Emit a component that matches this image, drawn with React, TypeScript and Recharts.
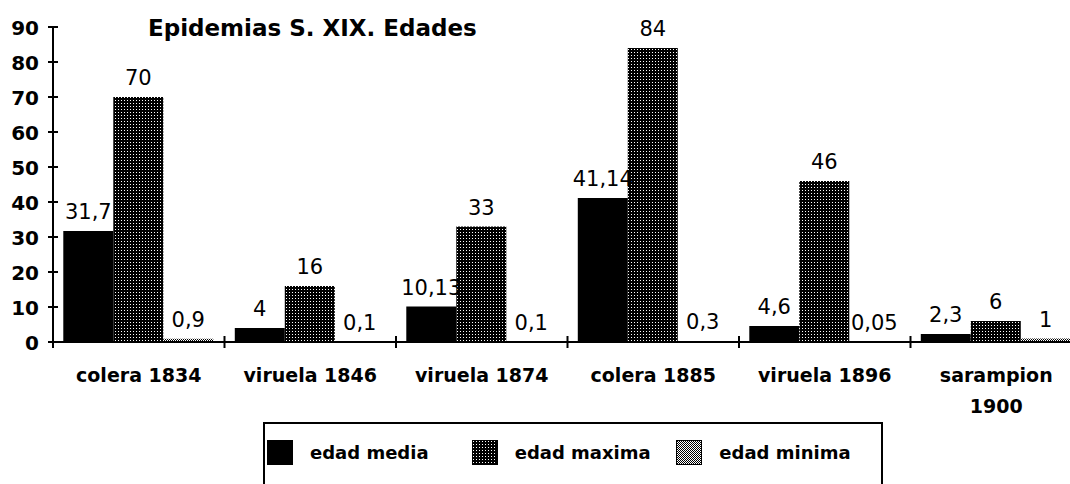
import { BarChart, Bar, XAxis, YAxis, LabelList } from "recharts";

// data
const categories = [
  "colera 1834",
  "viruela 1846",
  "viruela 1874",
  "colera 1885",
  "viruela 1896",
  "sarampion\n1900",
];
const edadMedia = [31.7, 4, 10.13, 41.14, 4.6, 2.3];
const edadMaxima = [70, 16, 33, 84, 46, 6];
const edadMinima = [0.9, 0.1, 0.1, 0.3, 0.05, 1];
const yTicks = [0, 10, 20, 30, 40, 50, 60, 70, 80, 90];
const seriesNames = ["edad media", "edad maxima", "edad minima"];

const chartData = categories.map((c, i) => ({
  name: c,
  media: edadMedia[i],
  maxima: edadMaxima[i],
  minima: edadMinima[i],
}));

const FONT = "'DejaVu Sans', sans-serif";
const CHART_W = 1090;
const CHART_H = 484;
const MARGIN = { top: 27, right: 8, bottom: 82, left: 0 };
const Y_W = 53;
const BAND = (CHART_W - MARGIN.left - MARGIN.right - Y_W) / categories.length;

const fmt = (v: any) => String(v).replace(".", ",");

function YTick({ x, y, payload }: any) {
  return (
    <g>
      <line x1={x - 5} x2={x + 5} y1={y} y2={y} stroke="#000" strokeWidth={2} />
      <text x={x - 14} y={y + 8} textAnchor="end" fontFamily={FONT} fontWeight="bold" fontSize={20} fill="#000">
        {payload.value}
      </text>
    </g>
  );
}

function XTick({ x, y, payload }: any) {
  const lines = String(payload.value).split("\n");
  const bx = x - BAND / 2;
  return (
    <g>
      <line x1={bx} x2={bx} y1={y - 6} y2={y + 6} stroke="#000" strokeWidth={2} />
      {lines.map((l, i) => (
        <text
          key={i}
          x={x}
          y={y + 40 + i * 31}
          textAnchor="middle"
          fontFamily={FONT}
          fontWeight="bold"
          fontSize={19}
          fill="#000"
        >
          {l}
        </text>
      ))}
    </g>
  );
}

function Swatch({ kind }: { kind: number }) {
  const id = `sw${kind}`;
  return (
    <svg width={26} height={25} style={{ display: "block" }}>
      <defs>
        <pattern id={id} width={kind === 1 ? 3 : 2} height={kind === 1 ? 3 : 2} patternUnits="userSpaceOnUse">
          <rect width={3} height={3} fill="#000" />
          {kind === 1 && <rect x={1} y={1} width={1} height={1} fill="#fff" />}
          {kind === 2 && <rect x={1} y={0} width={1} height={1} fill="#fff" />}
          {kind === 2 && <rect x={0} y={1} width={1} height={1} fill="#fff" />}
        </pattern>
      </defs>
      <rect width={26} height={25} fill={kind === 0 ? "#000" : `url(#${id})`} stroke="#000" strokeWidth={2} />
    </svg>
  );
}

export default function App() {
  return (
    <div style={{ position: "relative", width: 1070, height: 484, overflow: "hidden", background: "#fff" }}>
      <style>{"body{margin:0;overflow:hidden}"}</style>
      <div
        style={{
          position: "absolute",
          left: 148,
          top: 13,
          fontFamily: FONT,
          fontWeight: "bold",
          fontSize: 23,
          lineHeight: "30px",
          color: "#000",
          zIndex: 2,
        }}
      >
        Epidemias S. XIX. Edades
      </div>
      <BarChart
        width={CHART_W}
        height={CHART_H}
        data={chartData}
        margin={MARGIN}
        barCategoryGap="6%"
        barGap={0}
      >
        <defs>
          <pattern id="dotsMax" width={3} height={3} patternUnits="userSpaceOnUse">
            <rect width={3} height={3} fill="#000" />
            <rect x={1} y={1} width={1} height={1} fill="#fff" />
          </pattern>
          <pattern id="dotsMin" width={2} height={2} patternUnits="userSpaceOnUse">
            <rect width={2} height={2} fill="#000" />
            <rect x={1} y={0} width={1} height={1} fill="#fff" />
            <rect x={0} y={1} width={1} height={1} fill="#fff" />
          </pattern>
        </defs>
        <XAxis
          dataKey="name"
          interval={0}
          tickSize={0}
          tickMargin={0}
          tickLine={false}
          height={60}
          axisLine={{ stroke: "#000", strokeWidth: 2 }}
          tick={<XTick />}
        />
        <YAxis
          domain={[0, 90]}
          ticks={yTicks}
          width={Y_W}
          tickSize={0}
          tickMargin={0}
          tickLine={false}
          axisLine={{ stroke: "#000", strokeWidth: 2 }}
          tick={<YTick />}
        />
        <Bar dataKey="media" name={seriesNames[0]} fill="#000" isAnimationActive={false}>
          <LabelList dataKey="media" position="top" offset={12} formatter={fmt} fill="#000" fontFamily={FONT} fontSize={21} />
        </Bar>
        <Bar dataKey="maxima" name={seriesNames[1]} fill="url(#dotsMax)" isAnimationActive={false}>
          <LabelList dataKey="maxima" position="top" offset={12} formatter={fmt} fill="#000" fontFamily={FONT} fontSize={21} />
        </Bar>
        <Bar dataKey="minima" name={seriesNames[2]} fill="url(#dotsMin)" isAnimationActive={false}>
          <LabelList dataKey="minima" position="top" offset={12} formatter={fmt} fill="#000" fontFamily={FONT} fontSize={21} />
        </Bar>
      </BarChart>
      <div
        style={{
          position: "absolute",
          left: 263,
          top: 422,
          width: 620,
          height: 90,
          borderTop: "2px solid #000",
          borderLeft: "2px solid #000",
          borderRight: "2px solid #000",
          display: "flex",
          paddingLeft: 2,
          paddingTop: 16,
          boxSizing: "border-box",
          fontFamily: FONT,
          fontWeight: "bold",
          fontSize: 18,
          color: "#000",
        }}
      >
        {seriesNames.map((n, i) => (
          <div key={n} style={{ width: 205, display: "flex", alignItems: "flex-start" }}>
            <Swatch kind={i} />
            <span style={{ marginLeft: 17, lineHeight: "26px" }}>{n}</span>
          </div>
        ))}
      </div>
    </div>
  );
}
